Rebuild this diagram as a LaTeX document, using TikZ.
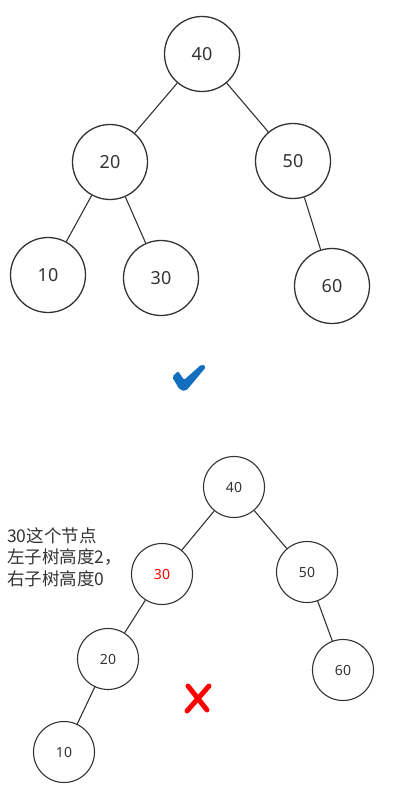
\documentclass[tikz,border=0pt]{standalone}
\usepackage{fontspec}
\setmainfont{Noto Sans}
\newfontfamily\cjk{Noto Sans CJK SC}
\begin{document}
\begin{tikzpicture}[x=1pt,y=-1pt,
  bignode/.style={circle,draw=black!80,line width=1.3pt,minimum size=75pt,inner sep=0pt,font=\fontsize{18}{20}\selectfont,text=black!80},
  smallnode/.style={circle,draw=black!80,line width=1.1pt,minimum size=61pt,inner sep=0pt,font=\fontsize{14}{16}\selectfont,text=black!80},
  edge/.style={draw=black!80,line width=1.1pt}]
\useasboundingbox (0,0) rectangle (401,805);
% top tree
\node[bignode] (t40) at (202,54) {40};
\node[bignode] (t20) at (110,162) {20};
\node[bignode] (t50) at (293,161) {50};
\node[bignode] (t10) at (48,275) {10};
\node[bignode] (t30) at (161,278) {30};
\node[bignode] (t60) at (332,286) {60};
\draw[edge] (t40) -- (t20);
\draw[edge] (t40) -- (t50);
\draw[edge] (t20) -- (t10);
\draw[edge] (t20) -- (t30);
\draw[edge] (t50) -- (t60);
% check mark
\fill[color={rgb,255:red,20;green,110;blue,190},rounded corners=2pt]
  (172,377) -- (178,371) -- (184,380) -- (202,364) -- (206,367) -- (186,391) -- (180,390) -- cycle;
% bottom tree
\node[smallnode] (b40) at (234,487) {40};
\node[smallnode,text=red] (b30) at (162,574) {30};
\node[smallnode] (b50) at (307,572) {50};
\node[smallnode] (b20) at (108,659) {20};
\node[smallnode] (b60) at (343,670) {60};
\node[smallnode] (b10) at (64,752) {10};
\draw[edge] (b40) -- (b30);
\draw[edge] (b40) -- (b50);
\draw[edge] (b30) -- (b20);
\draw[edge] (b20) -- (b10);
\draw[edge] (b50) -- (b60);
% note
\node[anchor=north west,align=left,inner sep=0pt,text=black!80,font=\cjk\fontsize{17.5}{21.5}\selectfont] (note) at (7,527)
  {30这个节点\\左子树高度2，\\右子树高度0};
% cross
\draw[red,line width=5pt,line cap=round] (188,686) -- (207,710);
\draw[red,line width=5pt,line cap=round] (209,686) -- (187,711);
\end{tikzpicture}
\end{document}
